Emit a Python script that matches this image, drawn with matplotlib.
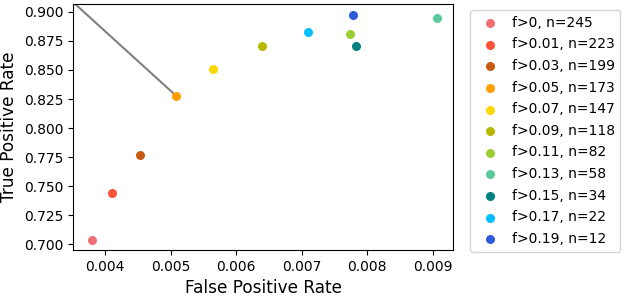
import matplotlib
matplotlib.use("Agg")
import matplotlib.pyplot as plt

# thresholds and counts for each group
labels = ["f>0, n=245", "f>0.01, n=223", "f>0.03, n=199", "f>0.05, n=173",
          "f>0.07, n=147", "f>0.09, n=118", "f>0.11, n=82", "f>0.13, n=58",
          "f>0.15, n=34", "f>0.17, n=22", "f>0.19, n=12"]
fpr = [0.00380, 0.00411, 0.00454, 0.00508, 0.00565, 0.00640, 0.00773,
       0.00906, 0.00783, 0.00710, 0.00778]
tpr = [0.704, 0.744, 0.777, 0.828, 0.851, 0.871, 0.881, 0.895, 0.871,
       0.883, 0.897]
colors = ["#ef6f73", "#fa5236", "#c85a14", "#ff9f00", "#ffd700", "#b8b800",
          "#9acd32", "#5cc99b", "#008080", "#00bfff", "#2e5ad9"]

# grey reference line
line_x = [0.00340, 0.00508]
line_y = [0.914, 0.828]

fig = plt.figure(figsize=(6.24, 2.96), dpi=100)
ax = fig.add_axes([0.117, 0.155, 0.609, 0.831])

ax.plot(line_x, line_y, color="grey", lw=1.5, zorder=1)
for x, y, c, lab in zip(fpr, tpr, colors, labels):
    ax.scatter(x, y, color=c, label=lab, s=30, zorder=2)

ax.set_xlim(0.00351, 0.00931)
ax.set_ylim(0.6951, 0.9066)
ax.set_xticks([0.004, 0.005, 0.006, 0.007, 0.008, 0.009])
ax.set_yticks([0.700, 0.725, 0.750, 0.775, 0.800, 0.825, 0.850, 0.875, 0.900])
ax.tick_params(labelsize=10)
ax.set_xlabel("False Positive Rate", fontsize=12.2)
ax.set_ylabel("True Positive Rate", fontsize=12.2)

ax.legend(loc="upper left", bbox_to_anchor=(1.045, 0.976), borderaxespad=0,
          fontsize=10, labelspacing=0.55, handletextpad=0.6)

fig.savefig("out.png", dpi=100)
